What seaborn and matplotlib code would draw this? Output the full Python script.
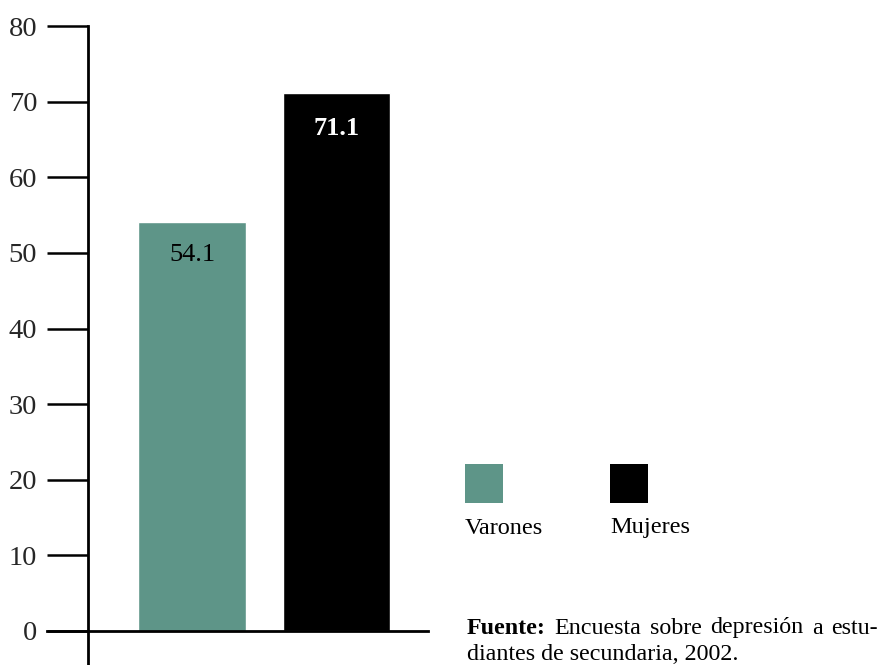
import matplotlib
matplotlib.use("Agg")
import matplotlib.pyplot as plt
import seaborn as sns
import pandas as pd

categories = ["Varones", "Mujeres"]
values = [54.1, 71.1]
colors = ["#5e9588", "#000000"]
yticks = [0, 10, 20, 30, 40, 50, 60, 70, 80]
source_bold = "Fuente:"
source_line1_words = ["Encuesta", "sobre", "depresión", "a", "estu-"]
source_line2 = "diantes de secundaria, 2002."

sns.set_theme(style="white")
plt.rcParams["font.family"] = ["Liberation Serif", "DejaVu Serif"]

W, H = 884, 665
fig = plt.figure(figsize=(W / 100, H / 100), dpi=100)

# axes spanning pixel x 47..428, y 26..665
ax_l, ax_r = 47, 428
ax_t, ax_b = 26, 665
ax = fig.add_axes([ax_l / W, 1 - ax_b / H, (ax_r - ax_l) / W, (ax_b - ax_t) / H])

df = pd.DataFrame({"cat": categories, "val": values})
sns.barplot(data=df, x="cat", y="val", hue="cat", palette=colors,
            width=0.745, saturation=1, legend=False, ax=ax)

px_per = 144.5
x0px = 192
ax.set_xlim((ax_l - x0px) / px_per, (ax_r - x0px) / px_per)
y0px = 631
ypx_per = (631 - 26) / 80
ax.set_ylim(-(ax_b - y0px) / ypx_per, 80)

for s in ["top", "right"]:
    ax.spines[s].set_visible(False)
ax.spines["left"].set_position(("data", (88 - x0px) / px_per))
ax.spines["bottom"].set_position(("data", 0))
for s in ["left", "bottom"]:
    ax.spines[s].set_color("black")
    ax.spines[s].set_linewidth(2)

ax.set_xticks([])
ax.set_yticks(yticks)
ax.set_yticklabels([str(t) for t in yticks])
ax.tick_params(axis="y", direction="out", length=29.5, width=1.8,
               color="black", pad=7, labelsize=20.5, left=True)
ax.set_xlabel("")
ax.set_ylabel("")
ax.set_facecolor("white")

# value labels
ax.text(0, values[0] - 4.4, f"{values[0]:.1f}", ha="center", va="center",
        fontsize=19, color="black")
ax.text(1, values[1] - 4.6, f"{values[1]:.1f}", ha="center", va="center",
        fontsize=19, color="white", fontweight="bold")

# legend
leg_x = [465, 610]
for i, (c, lab) in enumerate(zip(colors, categories)):
    fig.patches.append(plt.Rectangle((leg_x[i] / W, 1 - 503 / H), 38 / W, 39 / H,
                                     transform=fig.transFigure, facecolor=c,
                                     edgecolor="none"))
    fig.text(leg_x[i] / W, 1 - 528 / H, lab, ha="left", va="center",
             fontsize=17.5, color="black")

# source (first line justified between x=467 and x=878)
fs = 17.3
x_start, x_end = 467, 878
y1, y2 = 628, 654
renderer = fig.canvas.get_renderer()
items = [fig.text(0, 1 - y1 / H, source_bold, ha="left", va="center",
                  fontsize=fs, fontweight="bold", color="black")]
for w in source_line1_words:
    items.append(fig.text(0, 1 - y1 / H, w, ha="left", va="center",
                          fontsize=fs, color="black"))
widths = [it.get_window_extent(renderer).width for it in items]
gap = (x_end - x_start - sum(widths)) / (len(items) - 1)
x = x_start
for it, wd in zip(items, widths):
    it.set_x(x / W)
    x += wd + gap
fig.text(x_start / W, 1 - y2 / H, source_line2, ha="left", va="center",
         fontsize=fs, color="black")

fig.savefig("out.png", dpi=100, facecolor="white")
